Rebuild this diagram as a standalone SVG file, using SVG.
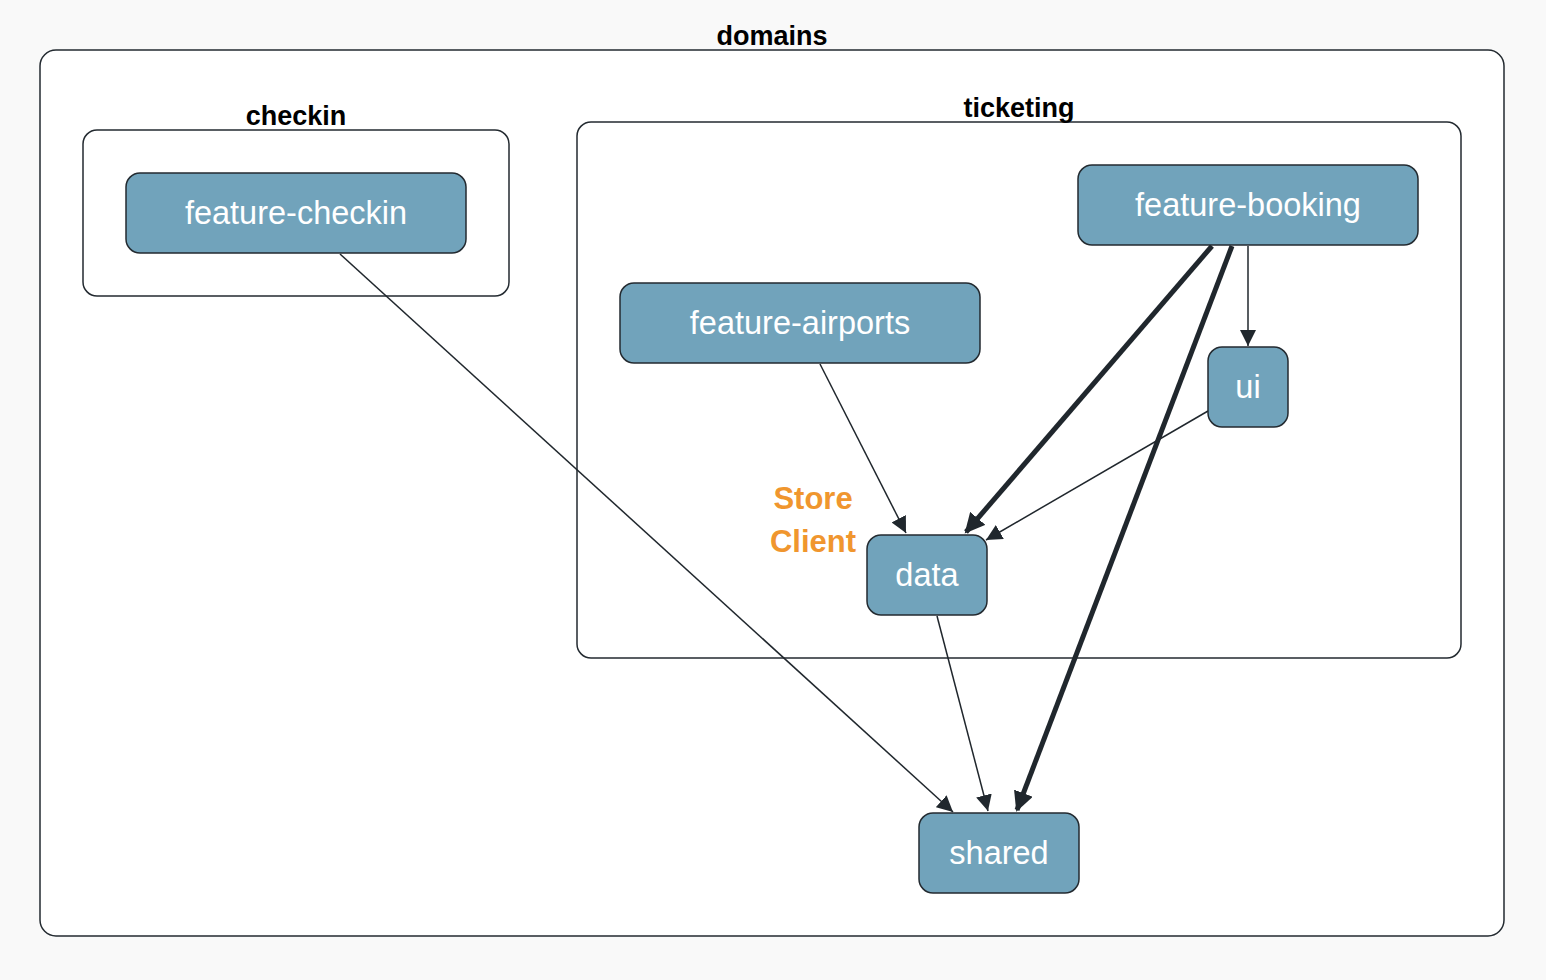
<svg xmlns="http://www.w3.org/2000/svg" width="1546" height="980" viewBox="0 0 1546 980">
<defs>
<style>
.grp{fill:#ffffff;stroke:#232a30;stroke-width:1.5}
.glabel{font-family:"Liberation Sans",Arial,sans-serif;font-weight:bold;font-size:27px;fill:#000;text-anchor:middle}
.node rect{fill:#71a3bb;stroke:#232a30;stroke-width:1.5}
.node text{font-family:"Liberation Sans",Arial,sans-serif;font-size:32.5px;fill:#ffffff;text-anchor:middle}
.thin{stroke:#20272d;stroke-width:1.5;fill:none}
.thick{stroke:#20272d;stroke-width:5;fill:none}
.note{font-family:"Liberation Sans",Arial,sans-serif;font-weight:bold;font-size:31px;fill:#f0962e;text-anchor:middle}
</style>
<marker id="ah" markerUnits="userSpaceOnUse" markerWidth="18" markerHeight="16" refX="16" refY="8" orient="auto">
<path d="M0,0 L16,8 L0,16 z" fill="#20272d"/>
</marker>
<marker id="ahb" markerUnits="userSpaceOnUse" markerWidth="22" markerHeight="20" refX="18" refY="10" orient="auto">
<path d="M0,0 L20,10 L0,20 z" fill="#20272d"/>
</marker>
</defs>
<rect width="1546" height="980" fill="#f9f9f9"/>
<g id="domains">
<rect class="grp" x="40" y="50" width="1464" height="886" rx="16"/>
<text class="glabel" x="772" y="45">domains</text>
</g>
<g id="checkin">
<rect class="grp" x="83" y="130" width="426" height="166" rx="14"/>
<text class="glabel" x="296" y="125">checkin</text>
</g>
<g id="ticketing">
<rect class="grp" x="577" y="122" width="884" height="536" rx="14"/>
<text class="glabel" x="1019" y="117">ticketing</text>
</g>
<g id="connectors">
<line class="thin" x1="340" y1="254" x2="953" y2="812" marker-end="url(#ah)"/>
<line class="thin" x1="820" y1="364" x2="906" y2="533" marker-end="url(#ah)"/>
<line class="thick" x1="1212" y1="246" x2="966" y2="532" marker-end="url(#ahb)"/>
<line class="thick" x1="1232" y1="246" x2="1017" y2="810" marker-end="url(#ahb)"/>
<line class="thin" x1="1248" y1="246" x2="1248" y2="346" marker-end="url(#ah)"/>
<line class="thin" x1="1208" y1="411" x2="986" y2="540" marker-end="url(#ah)"/>
<line class="thin" x1="937" y1="616" x2="988" y2="811" marker-end="url(#ah)"/>
</g>
<g id="feature-checkin" class="node">
<rect x="126" y="173" width="340" height="80" rx="14"/>
<text x="296" y="224">feature-checkin</text>
</g>
<g id="feature-booking" class="node">
<rect x="1078" y="165" width="340" height="80" rx="14"/>
<text x="1248" y="216">feature-booking</text>
</g>
<g id="feature-airports" class="node">
<rect x="620" y="283" width="360" height="80" rx="14"/>
<text x="800" y="334">feature-airports</text>
</g>
<g id="ui" class="node">
<rect x="1208" y="347" width="80" height="80" rx="14"/>
<text x="1248" y="398">ui</text>
</g>
<g id="data" class="node">
<rect x="867" y="535" width="120" height="80" rx="14"/>
<text x="927" y="586">data</text>
</g>
<g id="shared" class="node">
<rect x="919" y="813" width="160" height="80" rx="14"/>
<text x="999" y="864">shared</text>
</g>
<g id="store-client">
<text class="note" x="813" y="509">Store</text>
<text class="note" x="813" y="552">Client</text>
</g>
</svg>
